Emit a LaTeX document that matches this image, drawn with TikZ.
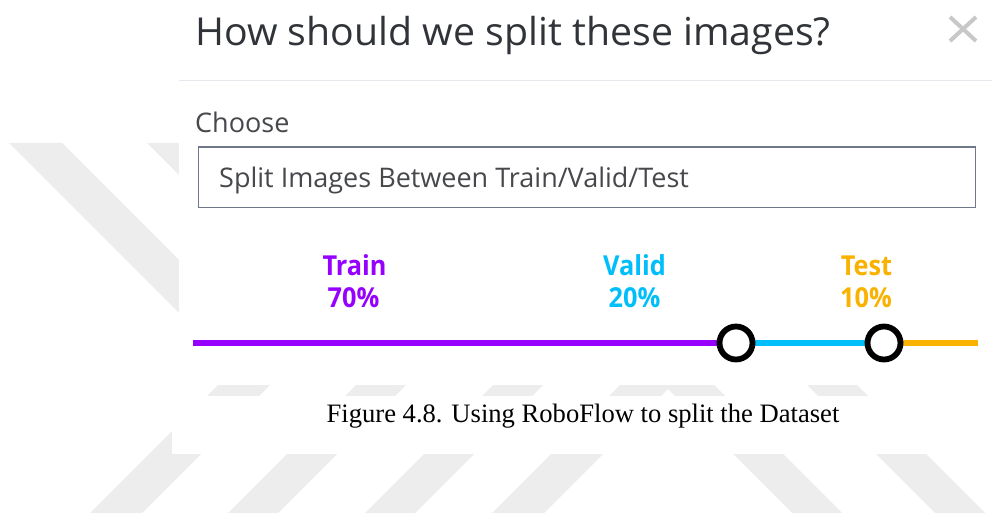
\documentclass[tikz,border=0pt]{standalone}
\usepackage{graphicx}
\usepackage{fontspec}
\setmainfont{Liberation Serif}
\newfontfamily\uifont{Open Sans}
\definecolor{wm}{RGB}{237,237,237}
\definecolor{titlecol}{RGB}{48,52,56}
\definecolor{labcol}{RGB}{70,72,76}
\definecolor{sepcol}{RGB}{229,233,238}
\definecolor{boxcol}{RGB}{112,120,136}
\definecolor{closecol}{RGB}{200,200,200}
\definecolor{trainc}{RGB}{150,0,255}
\definecolor{validc}{RGB}{0,190,250}
\definecolor{testc}{RGB}{250,178,0}
\newcommand{\narrow}[1]{\scalebox{0.92}[1]{#1}}
\tikzset{
  stripe/.style={fill=wm, draw=none},
  txt/.style={inner sep=0pt, anchor=base west},
  ctxt/.style={inner sep=0pt, anchor=base},
  pct/.style={inner sep=0pt, anchor=base, font=\uifont\bfseries\fontsize{27.5}{32}\selectfont},
  track/.style={line width=6.5pt},
  knob/.style={circle, draw=black, fill=white, line width=5.8pt, minimum size=33pt, inner sep=0pt},
}
\begin{document}
\begin{tikzpicture}[x=1pt,y=-1pt]
\useasboundingbox (0,0) rectangle (992,513);
\fill[white] (0,0) rectangle (992,513);
% watermark stripes
\fill[stripe] (9,143) -- (62,143) -- (249,330) -- (196,330) -- cycle;
\fill[stripe] (147,143) -- (197,143) -- (250,196) -- (200,196) -- cycle;
\fill[stripe] (218,385) -- (270,385) -- (142,513) -- (90,513) -- cycle;
\fill[stripe] (356,385) -- (406,385) -- (278,513) -- (228,513) -- cycle;
\fill[stripe] (493,385) -- (543,385) -- (415,513) -- (365,513) -- cycle;
\fill[stripe] (620,385) -- (672,385) -- (544,513) -- (492,513) -- cycle;
\fill[stripe] (664,385) -- (714,385) -- (842,513) -- (792,513) -- cycle;
\fill[stripe] (807,385) -- (857,385) -- (985,513) -- (935,513) -- cycle;
% screenshot and caption panels
\fill[white] (179,0) rectangle (992,385);
\fill[white] (172,396) rectangle (992,454);
% header
\node[txt, text=titlecol, font=\uifont\fontsize{38.5}{44}\selectfont] (title) at (195,46) {\scalebox{1.02}[1]{How should we split these images?}};
\coordinate (xa) at (950,17); \coordinate (xb) at (976,41);
\coordinate (xc) at (976,17); \coordinate (xd) at (950,41);
\draw[closecol, line width=4pt] (xa) -- (xb) (xc) -- (xd);
\coordinate (sepL) at (179,80.5); \coordinate (sepR) at (992,80.5);
\draw[sepcol, line width=1.6pt] (sepL) -- (sepR);
% chooser
\node[txt, text=labcol, font=\uifont\fontsize{27}{32}\selectfont] (choose) at (195,133) {Choose};
\node[draw=boxcol, line width=1.5pt, minimum width=777pt, minimum height=60pt, inner sep=0pt, anchor=north west] (box) at (197.5,146.5) {};
\node[txt, text=labcol, font=\uifont\fontsize{27}{32}\selectfont] (choice) at (219,187) {Split Images Between Train/Valid/Test};
% labels
\node[pct, text=trainc] (trainl) at (354.5,275) {\narrow{Train}};
\node[pct, text=trainc] (trainp) at (353.5,307) {\narrow{70\%}};
\node[pct, text=validc] (validl) at (634.5,275) {\narrow{Valid}};
\node[pct, text=validc] (validp) at (634.5,307) {\narrow{20\%}};
\node[pct, text=testc] (testl) at (866.5,275) {\narrow{Test}};
\node[pct, text=testc] (testp) at (866,307) {\narrow{10\%}};
% slider
\coordinate (s0) at (193,343);
\coordinate (k1c) at (736,343);
\coordinate (k2c) at (884,343);
\coordinate (s3) at (978,343);
\draw[trainc, track] (s0) -- (k1c);
\draw[validc, track] (k1c) -- (k2c);
\draw[testc, track] (k2c) -- (s3);
\node[knob] (k1) at (k1c) {};
\node[knob] (k2) at (k2c) {};
% caption
\node[ctxt, font=\fontsize{26.6}{30}\selectfont] (caption) at (583,422) {Figure 4.8. Using RoboFlow to split the Dataset};
\end{tikzpicture}
\end{document}
